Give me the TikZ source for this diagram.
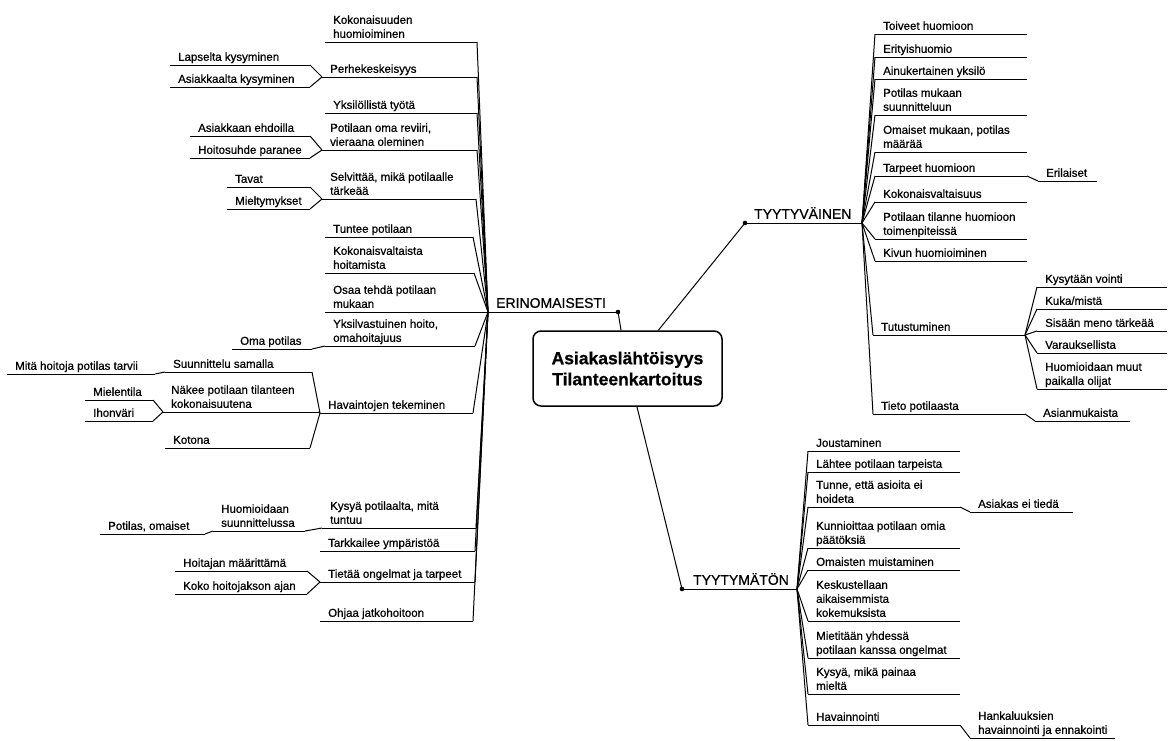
\documentclass[tikz,border=0pt]{standalone}
\usepackage{fontspec}
\setmainfont{Liberation Sans}[FakeBold=0.7]

% A topic: text above an underline running from x=#2 to x=#3 at height #4.
% Defines (#1-l) and (#1-r) at the two ends of the underline.
\newcommand\mmleaf[5]{%
  \coordinate (#1-l) at (#2,#4);
  \coordinate (#1-r) at (#3,#4);
  \draw[uline] (#1-l) -- (#1-r);
  \node[leaf] (#1) at ([xshift=8pt,yshift=4pt]#1-l) {#5};
}

\begin{document}
\begin{tikzpicture}[x=1pt,y=-1pt,
  leaf/.style={anchor=south west, inner sep=0pt, align=left, text depth=0pt,
               font=\fontsize{11.5}{14}\selectfont},
  head/.style={anchor=south west, inner sep=0pt, text depth=0pt,
               font=\fontsize{14}{16}\selectfont},
  rootbox/.style={draw, line width=1.5pt, rounded corners=8pt, align=center,
               minimum width=189pt, minimum height=75pt, inner sep=0pt,
               font=\bfseries\fontsize{17.5}{21}\selectfont},
  uline/.style={line width=1pt},
  link/.style={line width=1pt},
  hubdot/.style={fill=black}]
\useasboundingbox (0,0) rectangle (1171,740);

% ---------------- central topic ----------------
\node[rootbox] (root) at (627.5,368.5) {Asiakaslähtöisyys\\Tilanteenkartoitus};

% ---------------- main branches ----------------
\coordinate (E) at (488,312);  \coordinate (Edot) at (618,312);
\coordinate (V) at (862,223);  \coordinate (Vdot) at (745,223);
\coordinate (M) at (797,589);  \coordinate (Mdot) at (682,589);

\node[head] (erin) at (496,308) {ERINOMAISESTI};
\node[head] (tyva) at (754,219) {TYYTYVÄINEN};
\node[head] (tyma) at (693,585) {TYYTYMÄTÖN};

\draw[uline] (E) -- (Edot);
\draw[uline] (Vdot) -- (V);
\draw[uline] (Mdot) -- (M);
\draw[link] (root) -- (Edot);
\draw[link] (root) -- (Vdot);
\draw[link] (root) -- (Mdot);
\fill[hubdot] (Edot) circle (2.3);
\fill[hubdot] (Vdot) circle (2.3);
\fill[hubdot] (Mdot) circle (2.3);

% ---------------- ERINOMAISESTI ----------------
\mmleaf{l1}{325}{477}{42}{Kokonaisuuden\\huomioiminen}
\mmleaf{l2}{322}{477}{77}{Perhekeskeisyys}
\mmleaf{l2a}{170}{310}{65}{Lapselta kysyminen}
\mmleaf{l2b}{170}{310}{87}{Asiakkaalta kysyminen}
\mmleaf{l3}{325}{477}{113}{Yksilöllistä työtä}
\mmleaf{l4}{322}{477}{150}{Potilaan oma reviiri,\\vieraana oleminen}
\mmleaf{l4a}{190}{310}{136}{Asiakkaan ehdoilla}
\mmleaf{l4b}{190}{310}{158}{Hoitosuhde paranee}
\mmleaf{l5}{322}{476}{199}{Selvittää, mikä potilaalle\\tärkeää}
\mmleaf{l5a}{227}{310}{187}{Tavat}
\mmleaf{l5b}{227}{310}{209}{Mieltymykset}
\mmleaf{l6}{325}{473}{237}{Tuntee potilaan}
\mmleaf{l7}{325}{474}{273}{Kokonaisvaltaista\\hoitamista}
\mmleaf{l8}{325}{488}{312}{Osaa tehdä potilaan\\mukaan}
\mmleaf{l9}{325}{475}{346}{Yksilvastuinen hoito,\\omahoitajuus}
\mmleaf{l9a}{232}{312}{349}{Oma potilas}
\mmleaf{l10}{320}{473}{413}{Havaintojen tekeminen}
\mmleaf{l10a}{165}{312}{372}{Suunnittelu samalla}
\mmleaf{l10a1}{7}{155}{374}{Mitä hoitoja potilas tarvii}
\mmleaf{l10b}{163}{318}{412}{Näkee potilaan tilanteen\\kokonaisuutena}
\mmleaf{l10b1}{85}{153}{400}{Mielentila}
\mmleaf{l10b2}{85}{153}{421}{Ihonväri}
\mmleaf{l10c}{165}{310}{448}{Kotona}
\mmleaf{l11}{322}{476}{528}{Kysyä potilaalta, mitä\\tuntuu}
\mmleaf{l11a}{213}{305}{531}{Huomioidaan\\suunnittelussa}
\mmleaf{l11a1}{100}{205}{534}{Potilas, omaiset}
\mmleaf{l12}{320}{475}{551}{Tarkkailee ympäristöä}
\mmleaf{l13}{320}{475}{582}{Tietää ongelmat ja tarpeet}
\mmleaf{l13a}{175}{307}{571}{Hoitajan määrittämä}
\mmleaf{l13b}{175}{307}{594}{Koko hoitojakson ajan}
\mmleaf{l14}{320}{473}{621}{Ohjaa jatkohoitoon}

\foreach \t in {l1,l2,l3,l4,l5,l6,l7,l9,l10,l11,l12,l13,l14}
  \draw[link] (E) -- (\t-r);
\draw[link] (l2-l) -- (l2a-r);  \draw[link] (l2-l) -- (l2b-r);
\draw[link] (l4-l) -- (l4a-r);  \draw[link] (l4-l) -- (l4b-r);
\draw[link] (l5-l) -- (l5a-r);  \draw[link] (l5-l) -- (l5b-r);
\draw[link] (l9-l) -- (l9a-r);
\draw[link] (l10-l) -- (l10a-r); \draw[link] (l10-l) -- (l10b-r);
\draw[link] (l10-l) -- (l10c-r);
\draw[link] (l10a-l) -- (l10a1-r);
\draw[link] (l10b-l) -- (l10b1-r); \draw[link] (l10b-l) -- (l10b2-r);
\draw[link] (l11-l) -- (l11a-r);
\draw[link] (l11a-l) -- (l11a1-r);
\draw[link] (l13-l) -- (l13a-r); \draw[link] (l13-l) -- (l13b-r);

% ---------------- TYYTYVÄINEN ----------------
\mmleaf{r1}{875}{1027}{34}{Toiveet huomioon}
\mmleaf{r2}{875}{1027}{57}{Erityishuomio}
\mmleaf{r3}{875}{1027}{79}{Ainukertainen yksilö}
\mmleaf{r4}{875}{1027}{115}{Potilas mukaan\\suunnitteluun}
\mmleaf{r5}{875}{1027}{152}{Omaiset mukaan, potilas\\määrää}
\mmleaf{r6}{875}{1027}{176}{Tarpeet huomioon}
\mmleaf{r6a}{1038}{1097}{181}{Erilaiset}
\mmleaf{r7}{875}{1027}{202}{Kokonaisvaltaisuus}
\mmleaf{r8}{875}{1027}{239}{Potilaan tilanne huomioon\\toimenpiteissä}
\mmleaf{r9}{875}{1027}{261}{Kivun huomioiminen}
\mmleaf{r10}{873}{1025}{335}{Tutustuminen}
\mmleaf{r10a}{1037}{1167}{287}{Kysytään vointi}
\mmleaf{r10b}{1037}{1167}{309}{Kuka/mistä}
\mmleaf{r10c}{1037}{1167}{331}{Sisään meno tärkeää}
\mmleaf{r10d}{1037}{1167}{353}{Varauksellista}
\mmleaf{r10e}{1037}{1167}{389}{Huomioidaan muut\\paikalla olijat}
\mmleaf{r11}{873}{1025}{414}{Tieto potilaasta}
\mmleaf{r11a}{1035}{1130}{421}{Asianmukaista}

\foreach \t in {r1,r2,r3,r4,r5,r6,r7,r8,r9,r10,r11}
  \draw[link] (V) -- (\t-l);
\draw[link] (r6-r) -- (r6a-l);
\foreach \t in {r10a,r10b,r10c,r10d,r10e}
  \draw[link] (r10-r) -- (\t-l);
\draw[link] (r11-r) -- (r11a-l);

% ---------------- TYYTYMÄTÖN ----------------
\mmleaf{d1}{808}{960}{451}{Joustaminen}
\mmleaf{d2}{808}{960}{472}{Lähtee potilaan tarpeista}
\mmleaf{d3}{808}{960}{507}{Tunne, että asioita ei\\hoideta}
\mmleaf{d3a}{970}{1073}{512}{Asiakas ei tiedä}
\mmleaf{d4}{808}{960}{548}{Kunnioittaa potilaan omia\\päätöksiä}
\mmleaf{d5}{808}{960}{570}{Omaisten muistaminen}
\mmleaf{d6}{808}{960}{621}{Keskustellaan\\aikaisemmista\\kokemuksista}
\mmleaf{d7}{808}{960}{658}{Mietitään yhdessä\\potilaan kanssa ongelmat}
\mmleaf{d8}{808}{960}{694}{Kysyä, mikä painaa\\mieltä}
\mmleaf{d9}{808}{960}{725}{Havainnointi}
\mmleaf{d9a}{970}{1115}{738}{Hankaluuksien\\havainnointi ja ennakointi}

\foreach \t in {d1,d2,d3,d4,d5,d6,d7,d8,d9}
  \draw[link] (M) -- (\t-l);
\draw[link] (d3-r) -- (d3a-l);
\draw[link] (d9-r) -- (d9a-l);
\end{tikzpicture}
\end{document}
